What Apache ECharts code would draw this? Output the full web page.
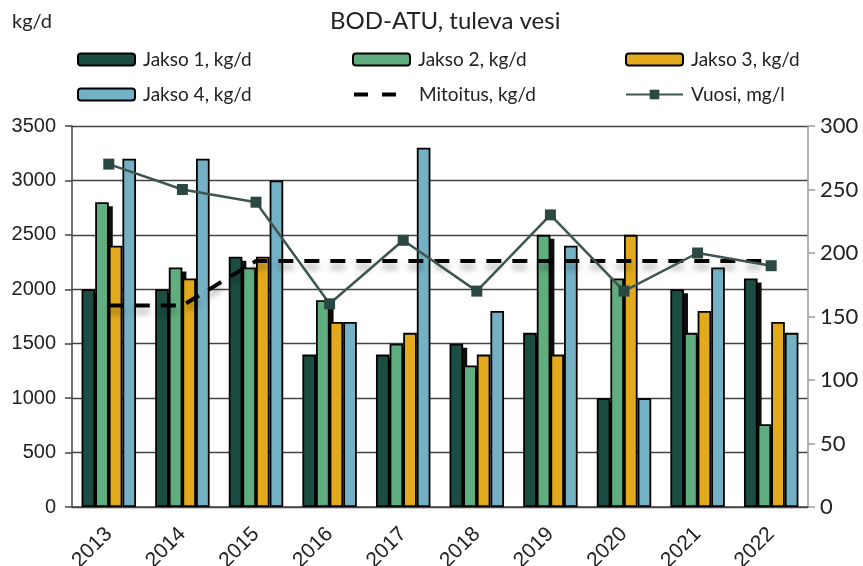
<!DOCTYPE html>
<html>
<head>
<meta charset="utf-8">
<script src="https://cdn.jsdelivr.net/npm/echarts@6/dist/echarts.min.js"></script>
<style>
  html, body { margin: 0; padding: 0; background: #fff; }
  #chart { width: 863px; height: 566px; }
</style>
</head>
<body>
<div id="chart"></div>
<script>
// vuodet ja sarjat (kg/d, mg/l)
const years = ['2013', '2014', '2015', '2016', '2017', '2018', '2019', '2020', '2021', '2022']
const jakso1 = [2000, 2000, 2300, 1400, 1400, 1500, 1600, 1000, 2000, 2100]
const jakso2 = [2800, 2200, 2200, 1900, 1500, 1300, 2500, 2100, 1600, 760]
const jakso3 = [2400, 2100, 2300, 1700, 1600, 1400, 1400, 2500, 1800, 1700]
const jakso4 = [3200, 3200, 3000, 1700, 3300, 1800, 2400, 1000, 2200, 1600]
const mitoitus = [1850, 1850, 2260, 2260, 2260, 2260, 2260, 2260, 2260, 2260]
const vuosi = [270, 250, 240, 160, 210, 170, 230, 170, 200, 190]

const chart = echarts.init(document.getElementById('chart'))

const CAT_GAP = 0.26 // barCategoryGap
const NBARS = 4

const legendText = { fontFamily: 'Lato', fontSize: 19, color: '#222', padding: [0, 0, 0, 3] }
function leg (name, left, top, extra) {
  return Object.assign({
    data: [name],
    left: left,
    top: top,
    padding: 0,
    itemWidth: 57,
    itemHeight: 12,
    textStyle: legendText
  }, extra || {})
}

// varjot jakso 1 ja 2 pylväille (piirretään pylväiden alle)
function renderShadow (params, api) {
  const i = api.value(0)
  const base = api.coord([i, 0])
  const catW = api.size([1, 0])[0]
  const barW = catW * (1 - CAT_GAP) / NBARS
  const start = base[0] - catW * (1 - CAT_GAP) / 2
  const children = []
  ;[1, 2].forEach(function (k) {
    const top = api.coord([i, api.value(k)])[1] + 4
    children.push({
      type: 'rect',
      shape: { x: start + (k - 1) * barW + 4, y: top, width: barW, height: Math.max(0, base[1] - top) },
      style: { fill: 'rgba(0,0,0,0.95)' }
    })
  })
  return { type: 'group', children: children }
}

const option = {
  animation: false,
  backgroundColor: '#fff',
  graphic: [
    { type: 'text', left: 12, top: 12, style: { text: 'kg/d', font: '20px Lato', fill: '#222' } },
    { type: 'text', left: 330, top: 9, style: { text: 'BOD-ATU, tuleva vesi', font: '24px Lato', fill: '#222' } }
  ],
  legend: [
    leg('Jakso 1, kg/d', 77, 50),
    leg('Jakso 2, kg/d', 352, 50),
    leg('Jakso 3, kg/d', 625, 50),
    leg('Jakso 4, kg/d', 77, 85),
    leg('Mitoitus, kg/d', 352, 85, {
      itemStyle: { opacity: 0 },
      lineStyle: { type: [14, 14, 14, 20], width: 4, shadowBlur: 0, shadowOffsetY: 0 }
    }),
    leg('Vuosi, mg/l', 625, 85)
  ],
  grid: { left: 72, right: 55, top: 126, height: 381, containLabel: false, outerBoundsMode: 'none' },
  xAxis: {
    type: 'category',
    data: years,
    axisLine: { lineStyle: { color: '#444', width: 1.5 } },
    axisTick: { length: 8, lineStyle: { color: '#444', width: 1.5 } },
    axisLabel: { rotate: 45, margin: 24, fontFamily: 'Liberation Sans', fontSize: 21, color: '#222' }
  },
  yAxis: [
    {
      type: 'value', min: 0, max: 3500, interval: 500,
      axisLine: { show: true, lineStyle: { color: '#444', width: 1.5 } },
      axisTick: { show: true, length: 7, lineStyle: { color: '#444', width: 1.5 } },
      axisLabel: {
        margin: 16, fontFamily: 'Liberation Sans', fontSize: 20, color: '#222',
        formatter: function (v) { return String(v) }
      },
      splitLine: { lineStyle: { color: '#444', width: 1.3 } }
    },
    {
      type: 'value', min: 0, max: 300, interval: 50,
      axisLine: { show: true, lineStyle: { color: '#999', width: 1.5 } },
      axisTick: { show: true, length: 7, lineStyle: { color: '#999', width: 1.5 } },
      axisLabel: { margin: 12, fontFamily: 'Lato', fontSize: 22, color: '#222' },
      splitLine: { show: false }
    }
  ],
  series: [
    {
      type: 'custom', silent: true,
      data: years.map(function (y, i) { return [i, jakso1[i], jakso2[i]] }),
      renderItem: renderShadow,
      z: 1
    },
    {
      name: 'Jakso 1, kg/d', type: 'bar', data: jakso1,
      barGap: '0%', barCategoryGap: (CAT_GAP * 100) + '%', z: 2,
      itemStyle: { color: '#1b4d43', borderColor: '#000', borderWidth: 1.8 }
    },
    {
      name: 'Jakso 2, kg/d', type: 'bar', data: jakso2, z: 2,
      itemStyle: { color: '#60ae80', borderColor: '#000', borderWidth: 1.8 }
    },
    {
      name: 'Jakso 3, kg/d', type: 'bar', data: jakso3, z: 2,
      itemStyle: { color: '#e2a91c', borderColor: '#000', borderWidth: 1.8 }
    },
    {
      name: 'Jakso 4, kg/d', type: 'bar', data: jakso4, z: 2,
      itemStyle: { color: '#74b1c5', borderColor: '#000', borderWidth: 1.8 }
    },
    {
      name: 'Mitoitus, kg/d', type: 'line', data: mitoitus,
      symbol: 'none', z: 5,
      itemStyle: { color: '#000' },
      lineStyle: {
        color: '#000', width: 4, type: [15, 11],
        shadowColor: 'rgba(0,0,0,0.35)', shadowBlur: 6, shadowOffsetY: 6
      }
    },
    {
      name: 'Vuosi, mg/l', type: 'line', data: vuosi, yAxisIndex: 1,
      symbol: 'rect', symbolSize: 11, z: 6,
      itemStyle: { color: '#2c4842' },
      lineStyle: { color: '#3e5650', width: 2.5 }
    }
  ]
}

chart.setOption(option)
</script>
</body>
</html>
